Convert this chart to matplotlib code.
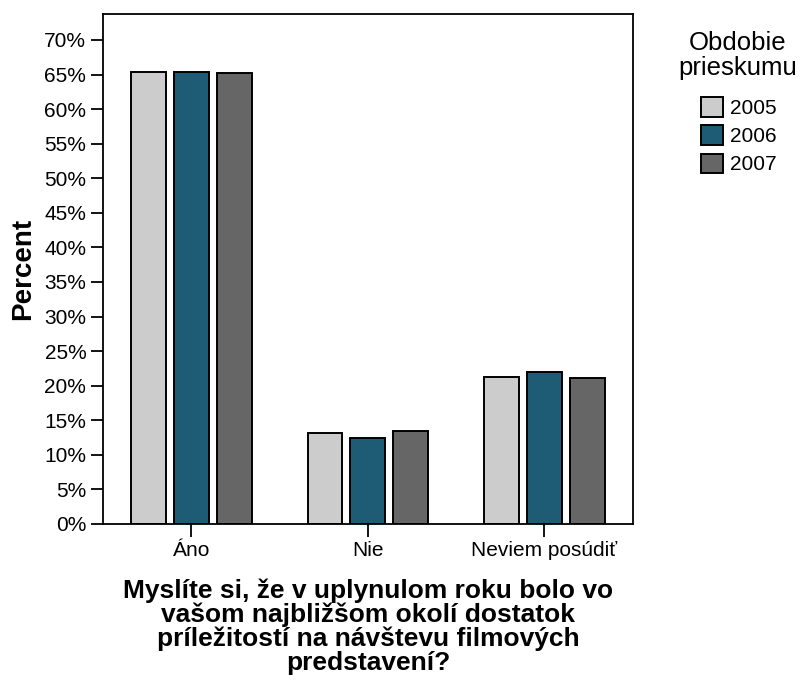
import numpy as np
import matplotlib.pyplot as plt

plt.rcParams['font.family'] = ['Liberation Sans', 'DejaVu Sans']

# Kategorie a hodnoty (v %)
categories = ["Áno", "Nie", "Neviem posúdiť"]
years = ["2005", "2006", "2007"]
v2005 = [65.4, 13.2, 21.3]
v2006 = [65.4, 12.5, 22.0]
v2007 = [65.2, 13.5, 21.1]
colors = ["#cccccc", "#1d5c74", "#666666"]

fig = plt.figure(figsize=(8.03, 6.82), dpi=100)
ax = fig.add_axes([0.1283, 0.2317, 0.6597, 0.7478])

x = np.arange(len(categories))
width = 0.198
step = 0.243
for i, (vals, lab) in enumerate(zip([v2005, v2006, v2007], years)):
    ax.bar(x + (i - 1) * step, vals, width, color=colors[i], edgecolor="black",
           linewidth=1.4, label=lab)

ax.set_xlim(-0.5, 2.5)
ax.set_ylim(0, 73.76)
ax.set_yticks(np.arange(0, 71, 5))
ax.set_yticklabels([f"{t}%" for t in range(0, 71, 5)])
ax.set_xticks(x)
ax.set_xticklabels(categories)
ax.tick_params(axis="both", labelsize=15, length=9, width=1.3, colors="black")
ax.tick_params(axis="y", pad=3)
for s in ax.spines.values():
    s.set_linewidth(1.3)

ax.set_ylabel("Percent", fontsize=20, fontweight="bold", labelpad=6)
ax.set_xlabel("Myslíte si, že v uplynulom roku bolo vo\nvašom najbližšom okolí dostatok\n"
              "príležitostí na návštevu filmových\npredstavení?",
              fontsize=19, fontweight="bold", linespacing=0.98, labelpad=13)

# Titulok legendy ako samostatny text
fig.text(0.919, 0.9267, "Obdobie", ha="center", va="baseline", fontsize=18.5)
fig.text(0.919, 0.890, "prieskumu", ha="center", va="baseline", fontsize=18.5)
leg = fig.legend(loc="upper center", bbox_to_anchor=(0.920, 0.885),
                 frameon=False, fontsize=15, handlelength=1.05,
                 handleheight=1.05, handletextpad=0.34, labelspacing=0.36)

fig.savefig("out.png", dpi=100)
